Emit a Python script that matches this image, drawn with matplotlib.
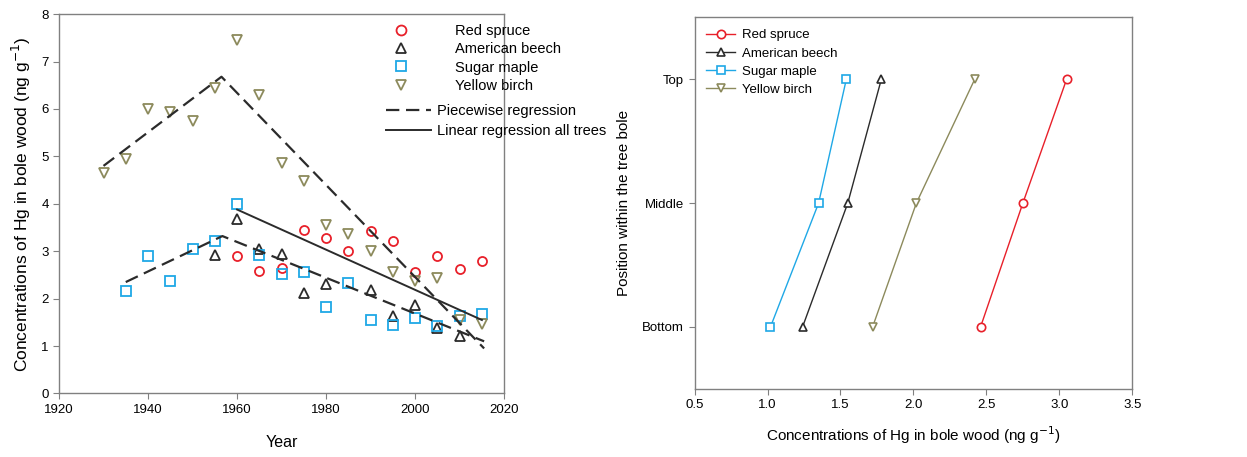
import numpy as np
import matplotlib
matplotlib.use("Agg")
import matplotlib.pyplot as plt
from matplotlib.lines import Line2D

plt.rcParams['font.family'] = ['Liberation Sans', 'DejaVu Sans']

# ---- left panel data: Hg in bole wood by year ----
years = np.arange(1930, 2020, 5)

spruce_years = [1960, 1965, 1970, 1975, 1980, 1985, 1990, 1995, 2000, 2005, 2010, 2015]
spruce_hg = [2.90, 2.59, 2.64, 3.44, 3.28, 3.00, 3.42, 3.21, 2.57, 2.90, 2.63, 2.79]

beech_years = [1955, 1960, 1965, 1970, 1975, 1980, 1990, 1995, 2000, 2005, 2010]
beech_hg = [2.92, 3.68, 3.05, 2.95, 2.11, 2.30, 2.19, 1.63, 1.87, 1.38, 1.22]

maple_years = [1935, 1940, 1945, 1950, 1955, 1960, 1965, 1970, 1975, 1980,
               1985, 1990, 1995, 2000, 2005, 2010, 2015]
maple_hg = [2.16, 2.91, 2.38, 3.04, 3.21, 3.99, 2.93, 2.51, 2.57, 1.82,
            2.32, 1.56, 1.45, 1.60, 1.42, 1.63, 1.68]

birch_years = list(years)
birch_hg = [4.66, 4.95, 5.99, 5.93, 5.74, 6.44, 7.45, 6.29, 4.87, 4.48,
            3.55, 3.36, 3.00, 2.57, 2.38, 2.43, 1.56, 1.47]

# regression breakpoints (year, value)
pw_birch_x = [1930, 1956.5, 2015.5]
pw_birch_y = [4.80, 6.68, 0.95]
pw_bm_x = [1935, 1956.7, 2015.5]
pw_bm_y = [2.35, 3.32, 1.10]
lin_x = [1960, 2015]
lin_y = [3.88, 1.55]

# ---- right panel data: Hg by position in the bole ----
positions = ['Bottom', 'Middle', 'Top']
pos_idx = [1, 2, 3]
spruce_pos = [2.46, 2.75, 3.05]
beech_pos = [1.24, 1.55, 1.78]
maple_pos = [1.02, 1.35, 1.54]
birch_pos = [1.72, 2.02, 2.42]

red = '#e8202a'
black = '#2b2b2b'
blue = '#1fa8e6'
olive = '#8c8a5c'
spine_col = '#808080'

fig = plt.figure(figsize=(12.47, 4.57), dpi=100)
ax1 = fig.add_axes([0.0473, 0.139, 0.357, 0.830])
ax2 = fig.add_axes([0.557, 0.149, 0.351, 0.813])

ms = 6.5
mew = 1.3
ax1.plot(spruce_years, spruce_hg, 'o', ms=ms, mfc='none', mec=red, mew=mew, label='Red spruce')
ax1.plot(beech_years, beech_hg, '^', ms=ms, mfc='none', mec=black, mew=mew, label='American beech')
ax1.plot(maple_years, maple_hg, 's', ms=ms, mfc='none', mec=blue, mew=mew, label='Sugar maple')
ax1.plot(birch_years, birch_hg, 'v', ms=ms, mfc='none', mec=olive, mew=mew, label='Yellow birch')

ax1.plot(pw_birch_x, pw_birch_y, color=black, lw=1.6, dashes=(6, 3))
ax1.plot(pw_bm_x, pw_bm_y, color=black, lw=1.6, dashes=(6, 3))
ax1.plot(lin_x, lin_y, color=black, lw=1.4)

ax1.set_xlim(1920, 2020)
ax1.set_ylim(0, 8)
ax1.set_xticks(np.arange(1920, 2021, 20))
ax1.set_yticks(np.arange(0, 9, 1))
ax1.set_xlabel('Year', fontsize=11.5, labelpad=14)
ax1.set_ylabel('Concentrations of Hg in bole wood (ng g$^{-1}$)', fontsize=12.5, labelpad=6)

leg1 = ax1.legend(loc='upper left', bbox_to_anchor=(0.739, 0.99), frameon=False,
                  fontsize=10.5, handlelength=1.0, handletextpad=3.2,
                  labelspacing=0.3, borderaxespad=0, markerscale=1.1)
ax1.add_artist(leg1)
line_handles = [Line2D([], [], color=black, lw=1.6, dashes=(6, 3)),
                Line2D([], [], color=black, lw=1.4)]
ax1.legend(line_handles, ['Piecewise regression', 'Linear regression all trees'],
           loc='upper left', bbox_to_anchor=(0.721, 0.778), frameon=False,
           fontsize=10.5, handlelength=3.1, handletextpad=0.4,
           labelspacing=0.4, borderaxespad=0)

# right panel
lw2 = 1.0
ax2.plot(spruce_pos, pos_idx, '-o', color=red, ms=6, mfc='white', mew=1.2, lw=lw2, label='Red spruce')
ax2.plot(beech_pos, pos_idx, '-^', color=black, ms=6, mfc='white', mew=1.2, lw=lw2, label='American beech')
ax2.plot(maple_pos, pos_idx, '-s', color=blue, ms=6, mfc='white', mew=1.2, lw=lw2, label='Sugar maple')
ax2.plot(birch_pos, pos_idx, '-v', color=olive, ms=6, mfc='white', mew=1.2, lw=lw2, label='Yellow birch')

ax2.set_xlim(0.5, 3.5)
ax2.set_ylim(0.5, 3.5)
ax2.set_xticks(np.arange(0.5, 3.6, 0.5))
ax2.set_xticklabels([f'{v:.1f}' for v in np.arange(0.5, 3.6, 0.5)])
ax2.set_yticks(pos_idx)
ax2.set_yticklabels(positions)
ax2.set_xlabel('Concentrations of Hg in bole wood (ng g$^{-1}$)', fontsize=11, labelpad=9)
ax2.set_ylabel('Position within the tree bole', fontsize=11, labelpad=8)
ax2.legend(loc='upper left', frameon=False, fontsize=9.5, handlelength=2.2,
           handletextpad=0.5, labelspacing=0.45, borderaxespad=0.5)

for ax in (ax1, ax2):
    for sp in ax.spines.values():
        sp.set_color(spine_col)
        sp.set_linewidth(1.0)
    ax.tick_params(direction='out', length=4, color=spine_col, labelsize=9.5)

fig.savefig('out.png', dpi=100, facecolor='white')
